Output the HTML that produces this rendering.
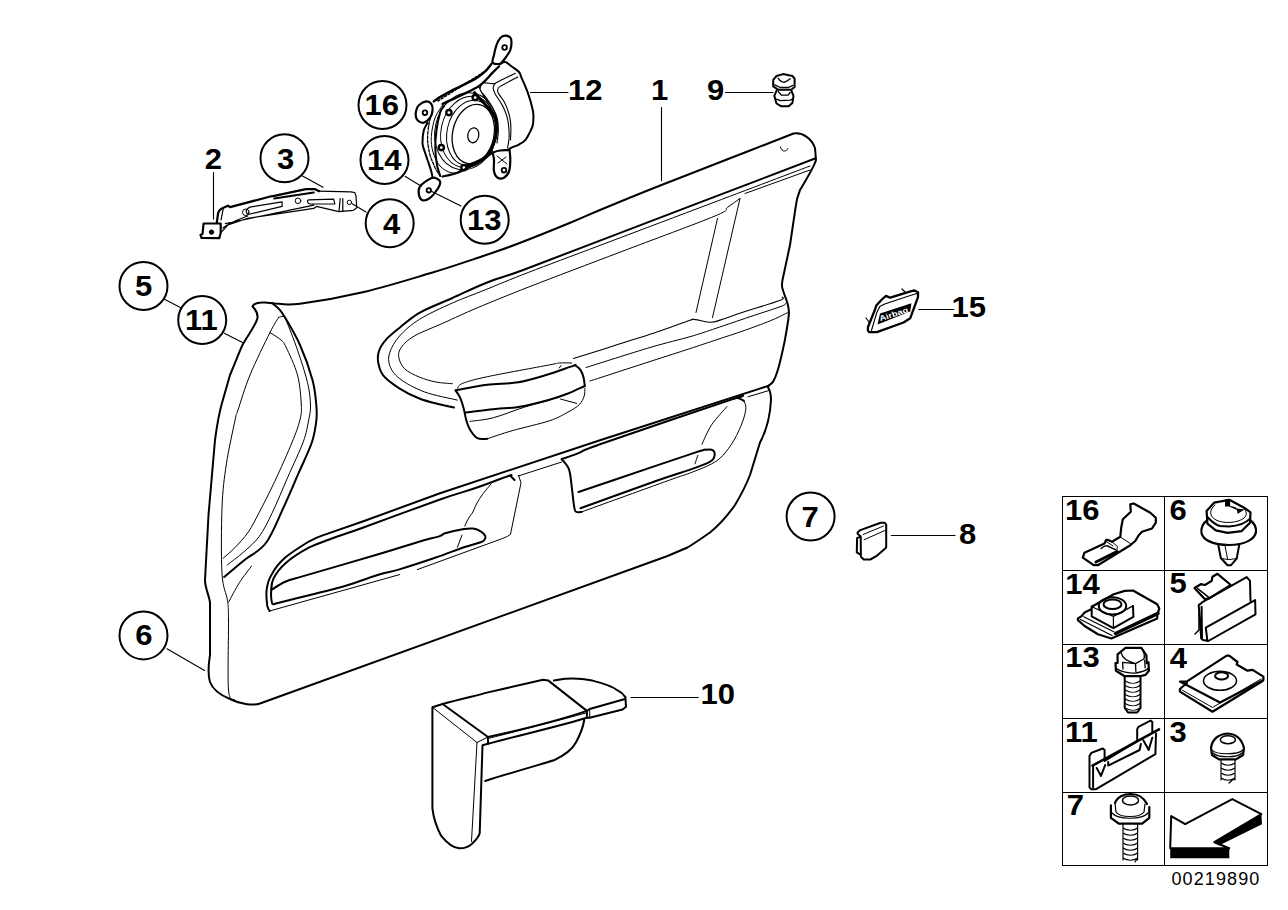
<!DOCTYPE html>
<html><head><meta charset="utf-8"><style>
html,body{margin:0;padding:0;background:#fff;width:1288px;height:910px;overflow:hidden}
svg{display:block}
.t{font-family:"Liberation Sans",sans-serif;font-weight:bold;font-size:29px;fill:#000}
.f{font-family:"Liberation Sans",sans-serif;font-size:18px;letter-spacing:1.1px;fill:#000}
</style></head><body>
<svg width="1288" height="910" viewBox="0 0 1288 910" fill="none" stroke="#000" stroke-linecap="round" stroke-linejoin="round">
<!-- door panel -->
<g id="panel">
<path stroke-width="2" d="M252.5,306.5 C254,303 258,302 265,302.5 L275,303.5  C279.2,303.5 285.0,305.7 300.0,303.7 C315.0,301.7 343.3,296.8 365.0,291.7 C386.7,286.6 411.8,278.7 430.0,273.3 C448.2,267.9 459.5,264.0 474.0,259.1 C488.5,254.2 500.7,250.2 517.0,244.0 C533.3,237.8 558.2,227.7 572.0,222.0 C585.8,216.3 585.1,216.2 600.0,210.0 C614.9,203.8 640.2,193.4 661.5,185.0 C682.8,176.6 705.5,167.9 727.5,159.3 C749.5,150.7 782.5,137.8 793.5,133.5 C803,132 812,139 815,148 L816,160 C814,167 806,180 800,190 C797,197 796,203 795.5,208 L790,245 L782.5,280  C782.5,281.3 781.4,283.9 782.3,287.9 C783.1,291.8 786.5,299.7 787.6,303.7 C788.7,307.7 788.8,309.0 788.9,311.7 C789.0,314.4 788.9,315.0 788.3,319.6 C787.6,324.2 786.2,333.0 785.0,339.4 C783.8,345.8 782.3,352.3 781.0,357.8 C779.7,363.3 778.4,368.3 777.1,372.3 C775.8,376.3 774.7,379.2 773.1,381.6 C771.5,384.0 768.4,385.7 767.5,386.5 C770,390 771,396 771,400 C770,420 764,435 760,442.5 L750,475 C745,488 738,500 735,505 C728,515 718,526 710,532.5 C702,538 695,543 687.5,547.5 L667.5,556 L260,703.5 C252,706 240,704 230,699 C220,695 213,690 210,682 C207,672 209,662 210,655 L210,602.5 C209,595 205,588 205,580 L208.5,515 L215,440 C217,425 220,410 222,403 L230,375 C235,363 240,350 242.5,345 C248,335 256,325 257.5,318 C258,313 255,309 252.5,306.5 Z"/>
<path stroke-width="2" d="M272.0,303.0 C273.2,304.0 276.8,306.6 279.0,309.0 C281.2,311.4 281.5,311.5 285.0,317.5 C288.5,323.5 295.4,334.6 300.0,345.0 C304.6,355.4 309.8,370.0 312.5,380.0 C315.2,390.0 315.7,398.3 316.3,405.0 C316.9,411.7 317.1,413.8 316.4,420.0 C315.7,426.2 314.9,433.2 312.0,442.0 C309.1,450.8 303.6,461.7 298.8,472.7 C294.0,483.7 288.9,496.1 283.4,507.8 C277.9,519.5 272.5,534.2 265.9,543.0 C259.3,551.8 250.8,554.8 243.9,560.5 C237.0,566.2 227.5,574.2 224.2,577.0"/>
<path stroke-width="1" d="M278.5,317.5 C279.2,317.3 281.8,316.1 283.0,316.5 C284.2,316.9 283.6,314.4 286.0,320.0 C288.4,325.6 293.9,339.6 297.5,350.0 C301.1,360.4 305.3,373.3 307.5,382.5 C309.7,391.7 310.3,398.8 310.5,405.0 C310.7,411.2 309.9,413.8 308.7,420.0 C307.5,426.2 306.7,432.5 303.2,442.0 C299.7,451.5 292.9,465.4 287.8,477.1 C282.7,488.8 277.2,502.3 272.5,512.2 C267.8,522.1 264.1,529.8 259.3,536.4 C254.5,543.0 249.2,547.0 243.9,551.8 C238.6,556.5 230.2,562.7 227.4,564.9"/>
<path stroke-width="1" d="M270.0,332.5 C271.8,333.8 278.3,337.6 281.0,340.0 C283.7,342.4 283.2,341.2 286.0,347.0 C288.8,352.8 294.9,365.3 297.5,375.0 C300.1,384.7 300.9,397.5 301.3,405.0 C301.7,412.5 301.4,413.8 299.9,420.0 C298.4,426.2 296.4,431.8 292.2,442.0 C288.0,452.2 280.2,469.8 274.7,481.5 C269.2,493.2 263.7,503.8 259.3,512.2 C254.9,520.6 252.3,526.1 248.3,532.0 C244.3,537.9 239.3,543.0 235.1,547.4 C230.9,551.8 225.1,556.5 223.1,558.3"/>
<path stroke-width="1" d="M278.5,317.5 C277.1,320.0 274.8,322.9 270.0,332.5 C265.2,342.1 255.3,362.1 250.0,375.0 C244.7,387.9 240.5,402.5 238.0,410.0 C235.5,417.5 237.0,411.0 235.1,420.0 C233.2,429.0 228.6,449.3 226.4,463.9 C224.2,478.5 222.7,489.5 222.0,507.8 C221.3,526.1 221.1,558.3 222.0,573.7 C222.9,589.1 226.3,592.4 227.4,600.1 C228.5,607.8 228.3,605.0 228.5,620.0 C228.7,635.0 227.4,676.7 228.5,690.0 C229.6,703.3 233.9,698.3 235.0,700.0"/>
<path stroke-width="1" d="M251.6,566.0 C249.6,568.8 243.3,576.5 239.5,582.5 C235.7,588.5 230.3,599.0 228.5,602.3"/>
<path stroke-width="1" d="M457.4,547.3 L462,535.2"/>
<path stroke-width="1" d="M780.5,147 C781,150 783,151 784.5,151 C786,151 787.5,150 788,148.5"/>
<!-- window loop -->
<path stroke-width="2" d="M815.0,158.5 C795.8,165.8 735.8,188.7 700.0,202.4 C664.2,216.1 629.5,229.3 600.0,240.6 C570.5,251.9 542.3,262.9 523.2,270.0 C504.1,277.1 497.1,278.5 485.3,283.2 C473.5,287.9 463.4,293.1 452.4,298.0 C441.4,302.9 428.2,307.9 419.4,312.8 C410.6,317.8 405.2,323.3 399.7,327.7 C394.2,332.1 389.9,335.4 386.5,339.2 C383.1,343.0 380.5,346.8 379.1,350.7 C377.7,354.6 377.5,358.2 378.2,362.3 C378.9,366.4 379.6,371.0 383.2,375.4 C386.8,379.8 393.7,384.8 399.7,388.6 C405.7,392.5 412.8,395.9 419.4,398.5 C426.0,401.1 433.4,402.8 439.2,404.3 C445.0,405.8 451.5,407.1 454.0,407.6"/>
<path stroke-width="1" d="M810.0,166.0 C791.7,172.9 735.0,194.4 700.0,207.6 C665.0,220.8 628.6,234.6 600.0,245.4 C571.4,256.2 547.3,265.1 528.2,272.5 C509.1,279.9 497.9,284.7 485.3,289.8 C472.7,294.9 463.4,298.1 452.4,303.0 C441.4,307.9 428.2,313.9 419.4,319.4 C410.6,324.9 404.6,330.4 399.7,335.9 C394.8,341.4 391.4,347.4 389.8,352.4 C388.2,357.3 388.2,361.2 389.8,365.6 C391.4,370.0 393.9,374.3 399.7,378.7 C405.5,383.1 414.8,388.3 424.4,391.9 C434.0,395.5 451.8,398.7 457.3,400.1"/>
<path stroke-width="1" d="M740.0,198.5 C737.9,200.0 731.7,204.4 727.5,207.3 C723.3,210.2 732.9,208.5 715.0,216.0 C697.1,223.5 650.8,240.4 620.0,252.2 C589.2,263.9 553.8,277.2 530.0,286.5 C506.2,295.8 491.4,301.9 477.1,307.9 C462.8,313.9 454.5,318.0 444.1,322.7 C433.7,327.4 421.6,331.8 414.5,335.9 C407.4,340.0 403.9,343.8 401.3,347.4 C398.7,351.0 398.2,353.7 398.8,357.3 C399.4,360.9 401.2,365.5 404.6,368.8 C408.0,372.1 414.2,374.9 419.4,377.1 C424.6,379.3 430.4,380.9 435.9,382.0 C441.4,383.1 449.6,383.4 452.4,383.7"/>
<path stroke-width="1" d="M745,193.5 L810,170 M717.5,218.5 L696,312.5 M740,198.5 L712.5,317.5"/>
<!-- lower window sill lines -->
<path stroke-width="1.1" d="M573.5,358.5 C579.6,356.6 595.6,351.6 610.0,347.0 C624.4,342.4 646.7,335.5 660.0,331.0 C673.3,326.5 684.1,322.1 690.0,320.2 C695.9,318.3 691.8,319.3 695.3,319.6 C698.8,319.9 706.7,322.2 711.1,322.2 C715.5,322.2 716.4,321.2 721.7,319.6 C727.0,318.0 733.1,315.5 742.8,312.3 C752.5,309.1 773.1,302.9 779.7,300.4 C786.3,297.9 781.9,297.7 782.3,297.2"/>
<path stroke-width="1" d="M586.0,367.5 C596.7,364.2 632.7,352.6 650.0,347.5 C667.3,342.4 679.6,339.7 690.0,336.7 C700.4,333.7 703.2,332.6 712.4,329.5 C721.6,326.4 734.0,322.2 745.4,318.3 C756.8,314.4 774.3,308.9 781.0,306.4 C787.7,303.9 784.8,303.7 785.6,303.1 M590.0,381.0 C600.0,377.8 633.3,366.9 650.0,361.5 C666.7,356.1 679.4,352.1 690.0,348.6 C700.6,345.1 704.5,343.8 713.7,340.7 C722.9,337.6 735.5,333.6 745.4,330.1 C755.3,326.6 766.0,322.6 773.1,319.6 C780.2,316.6 785.8,313.5 788.3,312.3"/>
<!-- handle -->
<path stroke-width="2" d="M455.6,390.4 C460.9,389.5 476.9,386.1 487.3,384.8 C497.8,383.5 508.4,384.0 518.3,382.3 C528.2,380.6 537.8,377.5 546.9,374.8 C556.0,372.1 568.2,367.4 573.0,365.9 C577.8,364.3 574.3,364.8 575.5,365.5 C576.7,366.2 579.1,367.9 580.4,369.9 C581.7,371.9 582.8,374.6 583.5,377.3 C584.2,380.0 584.6,384.6 584.8,386.0"/>
<path stroke-width="2" d="M464.9,412.7 C470.7,412.0 490.8,409.3 499.7,408.4 C508.6,407.5 510.0,408.6 518.3,407.1 C526.6,405.7 541.1,402.0 549.4,399.7 C557.7,397.4 562.1,395.8 568.0,393.5 C573.9,391.2 582.0,387.2 584.8,386.0"/>
<path stroke-width="2" d="M455.6,390.4 C456.3,391.5 458.5,394.2 459.9,397.2 C461.2,400.2 462.7,404.7 463.7,408.4 C464.7,412.1 465.1,416.1 466.1,419.6 C467.1,423.1 468.0,426.4 469.9,429.5 C471.8,432.6 474.4,436.6 477.3,438.2 C480.2,439.8 485.6,438.7 487.3,438.8"/>
<path stroke-width="1" d="M487.3,438.8 C491.4,437.4 501.8,433.7 512.1,430.7 C522.5,427.7 540.1,423.9 549.4,420.8 C558.7,417.7 563.0,414.8 568.0,412.1 C573.0,409.4 576.5,407.4 579.2,404.7 C581.9,402.0 583.3,398.7 584.2,396.0 C585.1,393.3 584.7,389.8 584.8,388.5"/>
<path stroke-width="1" d="M469.9,421.4 C473.8,420.8 484.4,420.1 493.5,417.7 C502.6,415.3 515.2,410.0 524.5,407.1 C533.8,404.2 545.2,401.4 549.4,400.3"/>
<path stroke-width="1" d="M457.5,388.5 C458.3,387.7 457.4,385.5 462.4,383.5 C467.4,381.5 472.8,379.8 487.3,376.7 C501.8,373.6 537.4,367.2 549.4,364.9 C561.4,362.6 555.6,363.3 559.3,363.0 C563.0,362.7 569.6,363.0 571.7,363.0"/>
<path stroke-width="1" d="M559.3,368 L561,365.5 M560.6,399.1 L576.7,403.4"/>
<!-- armrest lines -->
<path stroke-width="2" d="M769,385.6 L600,440.2 L440,493.3 L362.7,521.5 L322.7,535.4 C315,538 312,540 308.8,541.5 C300,547 292,552 285.8,557 C279,563 275,568 272,574 C268,580 267,586 266.5,591 C266,597 267,603 267.3,606 C268,608 268.5,610 269.6,611"/>
<path stroke-width="1" d="M269.6,611 L399.6,574.6"/>
<path stroke-width="2" d="M514.5,480.0 C513.9,479.4 512.0,477.2 511.0,476.5 C510.0,475.8 514.3,474.0 508.3,476.0 C502.3,478.0 486.2,484.4 474.8,488.3 C463.4,492.2 458.7,492.9 440.0,499.5 C421.3,506.1 380.7,521.2 362.7,527.7 C344.7,534.2 340.9,535.2 331.9,538.5 C322.9,541.8 316.5,543.6 308.8,547.7 C301.1,551.8 291.7,557.9 285.8,563.0 C279.9,568.1 275.9,573.8 273.5,578.5 C271.1,583.2 271.4,586.9 271.2,591.0 C270.9,595.1 271.4,600.9 272.0,603.0 C272.6,605.1 274.5,603.7 275.0,603.8"/>
<path stroke-width="2" d="M275.0,603.8 C280.8,602.3 298.5,597.9 310.0,595.0 C321.5,592.1 332.5,589.7 344.2,586.2 C355.9,582.8 370.9,577.1 380.0,574.3 C389.1,571.5 389.3,572.4 398.6,569.6 C407.9,566.8 425.0,561.2 435.9,557.5 C446.8,553.8 456.4,549.8 463.9,547.3 C471.4,544.8 477.3,543.5 480.7,542.2 C484.1,541.0 483.6,540.8 484.4,539.8 C485.2,538.8 485.9,537.5 485.3,536.1 C484.7,534.7 482.7,532.6 480.7,531.4 C478.7,530.1 476.0,529.0 473.2,528.6 C470.4,528.2 468.6,528.3 463.9,529.1 C459.2,529.9 449.2,532.1 445.2,533.3 C441.1,534.5 444.2,534.6 439.6,536.1 C435.0,537.6 427.2,539.2 417.3,542.2 C407.4,545.2 398.6,548.3 380.0,553.8 C361.4,559.3 321.5,570.8 305.8,575.4 C290.1,580.0 291.6,579.1 285.8,581.5 C280.0,583.9 273.6,588.6 271.2,590.0"/>
<path stroke-width="1" d="M491,484 C486,490 480,497 477,503 C474,508 474,512 470,516 C468,519 466,523 464.8,526 M518.3,476 L561.7,462 M518.5,475.3 L521,482.8 L510.5,534.2 M417.3,569.6 L502.5,538.5 C506,537 509,536 510.5,534.2"/>
<!-- right pocket -->
<path stroke-width="2" d="M561.7,459.1 C564.6,458.1 572.7,455.4 579.1,452.9 C585.5,450.4 574.6,453.1 600.0,444.2 C625.4,435.3 708.2,407.3 731.3,399.6 C754.3,391.9 736.2,398.0 738.3,398.2 C740.4,398.4 743.0,400.5 743.9,401.0"/>
<path stroke-width="2" d="M561.7,459.1 C562.8,460.5 566.5,464.4 568.0,467.2 C569.5,470.0 569.4,469.3 570.4,475.9 C571.4,482.5 573.2,500.9 574.2,506.9 C575.2,512.9 575.4,511.1 576.6,511.9 C577.8,512.7 580.8,511.9 581.6,511.9"/>
<path stroke-width="2" d="M578.5,492.0 C584.4,490.0 594.6,486.6 614.0,480.0 C633.4,473.4 679.6,457.6 695.0,452.6 C710.4,447.6 703.3,450.3 706.1,449.8 C708.9,449.3 710.3,449.3 711.7,449.8 C713.1,450.3 714.1,451.2 714.5,452.6 C714.9,454.0 714.7,456.6 713.8,458.2 C712.9,459.8 712.7,460.5 708.9,462.4 C705.1,464.3 699.6,466.3 690.8,469.4 C682.0,472.5 674.3,474.5 655.9,481.0 C637.5,487.5 593.0,503.7 580.4,508.2"/>
<path stroke-width="1" d="M581.6,511.9 C588.0,509.6 605.3,503.3 620.0,498.0 C634.7,492.7 657.8,484.3 669.8,480.0 C681.8,475.7 685.2,474.9 692.2,472.2 C699.2,469.5 706.6,466.6 711.7,463.8 C716.8,461.0 719.2,459.4 722.9,455.4 C726.6,451.4 730.8,445.6 734.1,440.0 C737.4,434.4 740.5,427.2 742.5,421.9 C744.5,416.5 745.7,411.4 745.9,407.9 C746.1,404.4 744.2,402.1 743.9,401.0"/>
<path stroke-width="1" d="M727.1,406.5 C724.5,409.5 715.9,418.4 711.7,424.7 C707.5,431.0 703.6,440.9 702.0,444.2 M697.8,455.4 C697.3,456.8 695.5,462.4 695.0,463.8"/>
<path stroke-width="1" d="M748,396.8 L769,390.5"/>
</g>
<!-- other parts -->
<g id="parts">
<!-- bracket 2/3/4 -->
<path stroke-width="2.2" d="M216.8,223 L218.1,213 C219,210 221,208.5 223.4,207.7 L228,205.7 L230,207.1 L270.2,196.5 L274.2,195.8 L305.9,189.2 L315.1,189.2 L319.1,191.2"/>
<path stroke-width="2.2" d="M203.6,223.5 L220.7,223.5 L220.7,232.8 M203.6,223.5 L202.5,234 L200.5,235 L201.6,238 L219.4,238.1 L220.7,232.8"/>
<circle cx="211.5" cy="232.1" r="2.2" fill="#000" stroke-width="1"/>
<path stroke-width="2" d="M274.2,198.5 L313.8,192.5"/>
<path stroke-width="1.2" d="M319.1,191.2 L350.8,191.9 L354.7,192.5 L356,195.8 L356.7,207.7 L353.4,210.4 L338.9,211.7 L316.4,206.4 L313.8,208.4 L247.8,218.3 L228,224.9 L220.7,232.8 M342.8,198.5 L342.8,211 M340.2,198.5 L339,211.5 M225.4,223.6 L313.8,205.1 M223,228 C230,222 240,219 247.8,216 M249.8,207.1 L282.1,201.8 L282.1,206.4 L247.8,214.5 C245,212 246,209 249.8,207.1 M308.5,199.8 L333.6,199.1 L334.9,203.8 L310,204 C307,203 307,201 308.5,199.8 M223.5,207.7 L221,220"/>
<circle cx="245.8" cy="212.3" r="3.3" stroke-width="1"/>
<circle cx="298" cy="200.8" r="2.8" stroke-width="1"/>
<circle cx="349.4" cy="202.4" r="2.2" stroke-width="1"/>
<line stroke-width="1.1" x1="302.5" y1="176" x2="323" y2="187.3"/>
<line stroke-width="1.1" x1="352.1" y1="203.8" x2="366" y2="212"/>
<!-- speaker -->
<path stroke-width="2" d="M500.2,63.8 C501.0,63.5 503.3,61.6 505.2,62.0 C507.1,62.4 509.2,64.6 511.5,66.3 C513.8,68.0 517.3,70.1 519.0,72.0 C520.7,73.9 520.0,74.1 521.5,77.6 C523.0,81.0 525.9,87.3 527.8,92.7 C529.7,98.1 531.9,106.0 532.8,110.2 C533.7,114.4 533.4,115.2 533.4,117.7 C533.4,120.2 533.3,122.9 532.8,125.2 C532.3,127.5 531.5,128.9 530.3,131.4 C529.0,133.9 527.4,137.8 525.3,140.1 C523.2,142.4 520.1,143.8 517.8,145.1 C515.5,146.3 513.2,146.8 511.5,147.6 C509.8,148.4 508.4,149.7 507.8,150.1"/>
<path stroke-width="1.1" d="M515.3,73.2 C512.2,74.8 500.1,80.6 496.5,82.6 C492.9,84.6 494.5,84.0 494.0,85.1 C493.5,86.1 493.1,87.4 493.3,88.9 C493.5,90.4 493.8,91.4 495.2,93.9 C496.6,96.4 499.8,101.0 501.5,103.9 C503.2,106.8 504.1,108.8 505.2,111.5 C506.2,114.2 507.2,117.1 507.8,120.2 C508.4,123.3 508.8,127.2 509.0,130.3 C509.2,133.4 509.2,136.1 509.0,139.0 C508.8,141.9 507.8,146.5 507.5,148.0"/>
<path stroke-width="1.1" d="M517.8,77.0 C514.9,78.6 503.5,84.2 500.2,86.4 C496.9,88.6 498.0,89.1 497.7,90.2 C497.4,91.3 497.3,91.4 498.4,93.3 C499.4,95.2 502.4,98.6 504.0,101.4 C505.6,104.2 506.8,107.1 507.8,110.2 C508.9,113.3 509.8,116.8 510.3,120.2 C510.8,123.6 510.9,127.0 510.9,130.3 C510.9,133.6 510.6,138.4 510.5,140.0"/>
<path stroke-width="1.1" d="M482.7,82.6 C484.8,82.8 493.1,83.7 495.2,83.9 M481.4,83.9 C481.2,85.0 479.6,88.1 480.2,90.2 C480.8,92.3 483.1,93.5 485.2,96.4 C487.3,99.3 490.7,104.2 492.7,107.7 C494.7,111.2 496.2,113.9 497.1,117.7 C498.1,121.5 498.4,126.1 498.4,130.3 C498.4,134.5 497.2,140.9 497.0,143.0 M479.0,87.0 C479.7,88.3 481.3,92.0 483.0,95.0 C484.7,98.0 487.0,101.3 489.0,105.0 C491.0,108.7 493.8,112.8 495.0,117.0 C496.2,121.2 496.2,125.5 496.0,130.0 C495.8,134.5 494.3,141.7 494.0,144.0"/>
<path stroke-width="2.4" d="M433.8,101.4 C435.1,100.6 437.8,98.5 441.3,96.4 C444.9,94.3 449.5,91.8 455.1,88.9 C460.8,86.0 470.2,81.8 475.2,78.9 C480.2,76.0 482.5,73.9 485.2,71.4 C487.9,68.9 490.4,65.1 491.5,63.8"/>
<path stroke-width="2.4" d="M442.6,103.9 C445.7,102.5 455.1,98.3 461.4,95.2 C467.7,92.1 475.0,88.9 480.2,85.1 C485.4,81.3 489.6,75.7 492.7,72.6 C495.8,69.5 497.9,67.3 499.0,66.3"/>
<path stroke-width="1.5" stroke-dasharray="2 2" d="M438,101 L487,70"/>
<path stroke-width="2.2" d="M492.7,62.6 C491.7,61.1 493.4,57.9 494.0,55.0 C494.6,52.1 495.5,47.8 496.5,45.0 C497.5,42.2 498.8,39.7 500.2,38.1 C501.6,36.5 503.5,35.7 505.2,35.6 C506.9,35.5 509.2,36.4 510.3,37.5 C511.4,38.6 511.5,40.4 511.5,42.5 C511.5,44.6 511.1,47.7 510.3,50.0 C509.5,52.3 507.8,54.4 506.5,56.3 C505.2,58.2 503.8,60.0 502.7,61.3 C501.6,62.5 501.9,63.6 500.2,63.8 C498.5,64.0 493.7,64.1 492.7,62.6 Z"/>
<circle cx="504.6" cy="47.5" r="2.3" stroke-width="1.8"/>
<path stroke-width="2.2" d="M416.3,110.2 C416.8,108.5 417.1,106.7 418.8,105.2 C420.5,103.7 424.2,101.6 426.3,101.4 C428.4,101.2 430.2,102.4 431.3,103.9 C432.4,105.4 432.8,107.9 432.6,110.2 C432.4,112.5 431.6,115.6 430.1,117.7 C428.6,119.8 425.9,122.3 423.8,122.7 C421.7,123.1 418.9,121.5 417.5,120.2 C416.1,119.0 415.9,116.9 415.7,115.2 C415.5,113.5 415.8,111.9 416.3,110.2 Z"/>
<circle cx="425" cy="112.7" r="2.3" stroke-width="1.8"/>
<path stroke-width="2" d="M427.6,122.7 C427.0,124.0 424.7,127.0 423.8,130.3 C422.9,133.7 422.5,139.7 422.5,142.8 C422.5,145.9 422.9,146.0 423.8,148.9 C424.7,151.8 426.4,156.4 427.6,160.2 C428.9,164.0 430.5,168.6 431.3,171.5 C432.1,174.4 432.4,176.7 432.6,177.7"/>
<path stroke-width="1.3" stroke-dasharray="3 1.5" d="M430.5,118.0 C430.2,119.2 429.3,121.4 428.8,125.1 C428.3,128.8 427.4,135.1 427.6,140.1 C427.8,145.1 428.9,150.6 430.1,155.2 C431.4,159.8 433.5,164.2 435.1,167.7 C436.8,171.2 439.2,174.6 440.0,176.0"/>
<path stroke-width="1" d="M442.6,105.2 C441.4,107.3 437.0,112.5 435.1,117.7 C433.2,122.9 431.7,130.8 431.3,136.5 C430.9,142.2 431.6,147.1 433.0,152.0 C434.4,156.9 436.8,162.5 440.0,166.0 C443.2,169.5 448.4,172.3 452.0,173.0 C455.6,173.7 459.8,170.7 461.4,170.2"/>
<ellipse stroke-width="1" cx="466" cy="131.3" rx="31" ry="38.8" transform="rotate(12 466 131.3)"/>
<ellipse stroke-width="1" cx="468.5" cy="132" rx="27.5" ry="36" transform="rotate(12 468.5 132)"/>
<ellipse stroke-width="1" cx="471" cy="133" rx="24" ry="33" transform="rotate(12 471 133)"/>
<ellipse stroke-width="1.3" cx="473.3" cy="134" rx="20.7" ry="30" transform="rotate(12 473.3 134)"/>
<ellipse stroke-width="1.3" cx="473.3" cy="135.3" rx="5.5" ry="7.5" transform="rotate(10 473.3 135.3)"/>
<path stroke-width="3" d="M474.6,92.7 C475.5,93.7 477.6,96.0 480.2,98.9 C482.8,101.8 487.7,107.1 490.2,110.2 C492.7,113.3 494.1,115.6 495.2,117.7 C496.2,119.8 496.3,121.9 496.5,122.7"/>
<path stroke-width="3" d="M463.9,166.4 C465.8,165.8 471.4,164.4 475.2,162.7 C479.0,161.0 483.8,158.5 486.5,156.4 C489.2,154.3 490.7,151.2 491.5,150.1"/>
<path stroke-width="2.2" d="M496.5,122.7 C496.5,124.8 496.9,131.1 496.3,135.0 C495.7,138.9 493.8,143.5 493.0,146.0 C492.2,148.5 491.8,149.4 491.5,150.1"/>
<path stroke-width="2" d="M444.0,106.0 C443.4,107.0 441.6,108.0 440.3,112.0 C439.1,116.0 437.3,124.0 436.5,130.0 C435.7,136.0 435.2,142.4 435.3,148.2 C435.4,154.0 436.2,160.4 437.0,165.0 C437.8,169.6 439.8,174.2 440.3,176.0"/>
<circle cx="475.2" cy="97.6" r="2.6" fill="#fff" stroke-width="2.4"/>
<circle cx="448.9" cy="112.6" r="2.6" fill="#fff" stroke-width="2.4"/>
<circle cx="441.3" cy="147.6" r="2.6" fill="#fff" stroke-width="2.4"/>
<circle cx="463.9" cy="167.7" r="2.6" fill="#fff" stroke-width="2.4"/>
<path stroke-width="2.2" d="M442.6,176.5 C445.1,175.9 452.6,174.6 457.6,172.7 C462.6,170.8 468.1,167.7 472.7,165.2 C477.3,162.7 481.9,159.8 485.2,157.7 C488.5,155.6 490.2,153.9 492.7,152.7 C495.2,151.5 497.5,150.9 500.0,150.5 C502.5,150.1 506.5,150.2 507.8,150.1"/>
<path stroke-width="2.2" d="M492.7,152.7 C492.9,153.9 493.8,157.1 494.0,160.2 C494.2,163.3 493.4,168.6 494.0,171.5 C494.6,174.4 496.0,176.7 497.7,177.7 C499.4,178.7 502.1,178.7 504.0,177.7 C505.9,176.7 507.9,174.4 509.0,171.5 C510.1,168.6 510.2,163.8 510.3,160.2 C510.4,156.6 509.7,151.8 509.6,150.1"/>
<circle cx="504" cy="170.2" r="2.3" stroke-width="1.8"/>
<path stroke-width="1" d="M497,156 L507,164 M498,163 L506,157"/>
<path stroke-width="2.2" d="M420.0,186.5 C418.5,188.8 418.4,191.7 418.8,194.0 C419.2,196.3 420.6,199.7 422.5,200.3 C424.4,200.9 427.6,199.7 430.1,197.8 C432.6,195.9 435.9,191.7 437.6,189.0 C439.3,186.3 440.7,183.4 440.1,181.5 C439.5,179.6 435.9,177.9 433.8,177.7 C431.7,177.5 429.9,178.7 427.6,180.2 C425.3,181.7 421.5,184.2 420.0,186.5 Z"/>
<circle cx="428.8" cy="190.3" r="2.2" stroke-width="1.8"/>
<!-- clip 9 -->
<path stroke-width="2" d="M773.2,79.8 L776.5,76 L783.1,74.1 L792.4,76 L794.6,78.7 L794.6,87 L791.3,89.7 L778.1,89.7 L773.2,86.4 Z M776.5,90.8 L774.3,95.8 L776.5,103.5 L780.9,106.2 L788.6,106.2 L792.4,102.9 L793.5,95.8 L791.3,90.3"/>
<path stroke-width="1.3" d="M778.1,78.2 C780,81 782,82.3 783.6,82.3 C786,82.3 788,80.5 790.2,78.7 M774.8,84.8 L780.3,87.5 L788.6,87.5 L793,85.3 M778.1,91.4 L781.4,95.2 L788,95.2 L790.2,92.5 M776.5,99.1 L780.3,100.7 L790.2,100.2 L792.5,99"/>
<!-- badge 15 -->
<path stroke-width="2.3" d="M867.9,330.4 L869.1,332.2 L876.9,332.2 L903.5,322.5 L910.2,318.3 L918,297.1 L918,292.3 L914.4,290.5 L911.4,291.1 L890.2,297.7 L886,295.9 L881.8,299.5 L876.3,305.6 L875.1,309.2 L867.9,327.3 Z"/>
<path stroke-width="1.2" d="M871.5,330.4 L876.9,312.2 L880,306.2 L885.4,303.8 L907.2,296.5 L916.8,293.5 M866,318 L869,322 M902,289 L905,292"/>
<path stroke="none" fill="#000" d="M877.5,324.5 L880,313.4 L911.4,303.3 L910.2,311.5 Z"/>
<text x="0" y="0" transform="translate(880.2 321.3) rotate(-18)" font-family="Liberation Sans" font-weight="bold" font-size="7.5" textLength="30" lengthAdjust="spacingAndGlyphs" fill="#fff" stroke="none">Airbag</text>
<!-- clip 8 -->
<path stroke-width="2" d="M857.6,532.6 L860.4,530.1 L880.7,522.7 L884.6,522.7 L886.2,524.6 L886.2,547.4 L884.6,549.1 L876.3,556.2 L870.3,559.5 L863.7,559.5 L860.9,556.8 L860.7,536.4 L857.6,533.7 Z M860.7,536.4 L857.1,538.1 L856.8,552.4 L860.4,554.6"/>
<path stroke-width="1" d="M863.1,534.5 L883.5,526 M864.2,539.7 L885.1,530.4"/>
<!-- part 10 -->
<path stroke-width="2" d="M432.4,707.3 L432.4,808.4 C434,822 438,830 441.2,835.9 C447,843 453,848 459.1,848.3 C464,848.5 468,847 471.5,844.2 C476,840 479,836 479.7,833.2 L482.5,745.2 L488,743.8 M432.4,707.3 L442.6,704 C460,699 475,696 488,692.4 L543,679.8 L548.4,680.6 L586.9,710.9 L586.9,717.7 C560,726 520,735 488,743.8"/>
<path stroke-width="2" d="M442.6,704 L488,737 L488,743.8 M488,737 C520,730 560,720 586.9,710.9"/>
<path stroke-width="1" d="M432.4,707.3 L477,742.5 L488,737 M477,742.5 L471.5,841.4 M488,738.5 C530,728 560,720 586,713"/>
<path stroke-width="2" d="M485.2,781 C510,773 535,766 553.9,760.3 C565,755 572,750 575.9,742.5 C580,735 583,728 584.2,720"/>
<path stroke-width="2" d="M553.9,680.6 L564.9,678.7 C575,678 585,679 592.4,680.6 C602,683 612,686 617.2,690.2 C621,692 624,695 625.4,697.1 L626,706.7 L622.6,709.5 L589.7,717.7 L586.9,717.7 M586.9,710.9 L589.7,709 L625,699"/>
<path stroke-width="1" d="M589.7,709 L589.7,717.7"/>
</g>
<!-- circles -->
<g stroke-width="2">
<circle cx="382.5" cy="105" r="24"/>
<circle cx="284.5" cy="158.3" r="24"/>
<circle cx="384.5" cy="160" r="24"/>
<circle cx="389.7" cy="223.3" r="24"/>
<circle cx="484.7" cy="219.8" r="24"/>
<circle cx="143.5" cy="286" r="24"/>
<circle cx="202.2" cy="320" r="24"/>
<circle cx="810.6" cy="516.5" r="24"/>
<circle cx="143.5" cy="635.4" r="24"/>
</g>
<!-- leaders -->
<g stroke-width="1.1">
<line x1="530.5" y1="92.5" x2="568" y2="92.5"/>
<line x1="661.5" y1="107.5" x2="661.5" y2="180.5"/>
<line x1="725.5" y1="92.5" x2="773" y2="92.5"/>
<line x1="213.5" y1="172.5" x2="213.5" y2="219"/>
<line x1="164.5" y1="299.3" x2="181.3" y2="308"/>
<line x1="224.3" y1="333.3" x2="242.5" y2="342.5"/>
<line x1="167" y1="648.8" x2="204.5" y2="670.5"/>
<line x1="918.8" y1="309.5" x2="953.8" y2="309.5"/>
<line x1="891.3" y1="535.5" x2="955" y2="535.5"/>
<line x1="630.9" y1="697.5" x2="698.2" y2="697.5"/>
<line x1="405" y1="176.3" x2="421.3" y2="186.3"/>
<line x1="431.3" y1="191.3" x2="461" y2="206"/>
</g>
<!-- labels -->
<g class="t" stroke="none">
<text transform="translate(364.4,115.0) scale(1.07,1)">16</text>
<text transform="translate(277.0,169.3) scale(1.07,1)">3</text>
<text transform="translate(367.0,170.0) scale(1.07,1)">14</text>
<text transform="translate(383.0,234.2) scale(1.07,1)">4</text>
<text transform="translate(467.0,230.0) scale(1.07,1)">13</text>
<text transform="translate(134.9,296.0) scale(1.07,1)">5</text>
<text transform="translate(185.0,330.2) scale(1.07,1)">11</text>
<text transform="translate(801.5,526.5) scale(1.07,1)">7</text>
<text transform="translate(135.2,645.4) scale(1.07,1)">6</text>
<text transform="translate(567.9,100.0) scale(1.07,1)">12</text>
<text transform="translate(651.0,100.0) scale(1.07,1)">1</text>
<text transform="translate(707.0,100.0) scale(1.07,1)">9</text>
<text transform="translate(204.8,169.3) scale(1.07,1)">2</text>
<text transform="translate(951.5,317.0) scale(1.07,1)">15</text>
<text transform="translate(959.0,544.2) scale(1.07,1)">8</text>
<text transform="translate(700.4,704.0) scale(1.07,1)">10</text>
</g>
<!-- table -->
<g stroke-width="1" stroke-linecap="square">
<line x1="1062.5" y1="496.5" x2="1267.5" y2="496.5"/>
<line x1="1062.5" y1="865.5" x2="1267.5" y2="865.5"/>
<line x1="1062.5" y1="496.5" x2="1062.5" y2="865.5"/>
<line x1="1267.5" y1="496.5" x2="1267.5" y2="865.5"/>
<line x1="1164.5" y1="496.5" x2="1164.5" y2="865.5"/>
<line x1="1062.5" y1="570.5" x2="1267.5" y2="570.5"/>
<line x1="1062.5" y1="644.5" x2="1267.5" y2="644.5"/>
<line x1="1062.5" y1="718.5" x2="1267.5" y2="718.5"/>
<line x1="1062.5" y1="792.5" x2="1267.5" y2="792.5"/>
</g>
<g class="t" stroke="none">
<text transform="translate(1065.0,519.8) scale(1.07,1)">16</text>
<text transform="translate(1169.6,519.8) scale(1.07,1)">6</text>
<text transform="translate(1065.3,593.8) scale(1.07,1)">14</text>
<text transform="translate(1169.6,593.0) scale(1.07,1)">5</text>
<text transform="translate(1065.3,667.0) scale(1.07,1)">13</text>
<text transform="translate(1169.8,667.6) scale(1.07,1)">4</text>
<text transform="translate(1065.0,742.0) scale(1.07,1)">11</text>
<text transform="translate(1169.6,741.8) scale(1.07,1)">3</text>
<text transform="translate(1066.8,815.0) scale(1.07,1)">7</text>
</g>
<!-- table icons -->
<g id="icons">
<!-- 16 -->
<path stroke-width="2.2" d="M1130.3,504.3 L1133.7,503.5 L1150.3,512.7 L1155.8,517.7 L1155.8,522.7 L1152,528.5 L1142,531.8 L1138.7,535.2 L1135.3,541 L1130.3,545.2 L1097.8,565.2 L1093.7,565.2 L1082.8,557.7 L1084.5,552.7 L1104.5,543.5 L1106.2,539.8 L1108.7,540.2 L1112,541.8 L1120.3,536.8 L1121.2,527.7 L1122.8,519.3 L1130.8,511.8 Z"/>
<path stroke-width="1" d="M1112,541.8 L1117.5,546.5 L1116.5,551 M1120.3,537 L1130.3,543.5 M1105.5,541 L1113,546"/>
<path stroke-width="3" d="M1096,562 L1117,551.5"/>
<path stroke-width="1.5" d="M1101.2,548.5 C1104,546 1106,545.5 1107.5,546 C1110,547 1112,548.5 1115.3,549.5"/>
<!-- 6 -->
<path stroke-width="2.2" d="M1206.6,511 L1214.1,502.7 L1229.2,499.8 L1244.2,507.7 L1250.5,512.3 L1250,522.7 L1241.7,531.1 L1227.5,532.8 L1215.8,530.3 L1207.4,523.6 Z"/>
<path stroke-width="1" d="M1215,505 C1209,510 1209,516 1216,520 C1224,524 1238,523 1244,518 C1249,514 1245,508 1240,506"/>
<path stroke-width="2" d="M1207.4,517 C1212,522 1216,525 1220,526 L1229,526.5 C1236,526 1245,524 1250,518.6"/>
<path stroke="none" fill="#000" d="M1225,499.5 L1230,499 L1230.2,506 L1235,507 L1237,508.5 L1244.5,509.5 L1237.5,514 L1237,510 L1229,506.5 L1225,506.5 Z"/>
<path stroke-width="2.2" d="M1207,520.5 C1202,524 1201,529 1201.5,533 C1203,540 1213,545 1229,545 C1245,545 1255,539 1256,532 C1256.5,527 1254,523 1250,520"/>
<path stroke-width="2" d="M1218.3,545 L1220.8,558 L1227.5,565.3 L1230.8,565.3 L1236.7,558.6 L1239.2,545"/>
<path stroke-width="1" d="M1225,546 L1227.5,558.6 M1221,558 C1226,560 1232,560 1237,558"/>
<!-- 14 -->
<path stroke-width="2.2" d="M1084.6,612.6 L1091.2,609.3 M1091.7,606.8 L1113.8,594.2 L1124.7,590.9 L1133,590.5 L1157.2,604.3 L1159.3,608.4 L1157.2,615.1 L1157.2,618.5 L1111.3,638.5 L1097.9,634.3 L1084.6,626 L1077.9,620.1 L1077.9,618.5 L1081.2,616.4 L1084.6,612.6"/>
<path stroke-width="2" d="M1091.7,606.8 L1091.7,616.4 M1133,605.9 L1133.4,616.8 L1113.4,628.1 L1091.7,616.4"/>
<path stroke-width="1.2" d="M1091.7,606.8 L1113.4,616.4 L1133,605.9 M1113.4,616.4 L1113.4,628.1 M1083.7,616.8 L1113.8,631.8 M1080.5,619.5 L1112,635.5"/>
<ellipse stroke-width="2" cx="1112.5" cy="605.9" rx="13.7" ry="8.7"/>
<ellipse stroke-width="2" cx="1112.5" cy="604.3" rx="9" ry="4.8"/>
<path stroke-width="3.5" d="M1115.5,633.5 L1158,613.4"/>
<!-- 5 -->
<path stroke-width="2" d="M1198.7,605.1 L1202.4,602.2 L1246.7,577.1 L1250,580.9 L1250.5,600.9 M1198.7,605.1 L1201.2,638.5 L1203,640 L1208.3,641 L1255.5,614.3 L1255.1,600.1 L1205.8,627.6 L1207.4,641 M1201.6,606.8 L1202,639"/>
<path stroke-width="2.2" d="M1194.5,588 L1200.8,584.2 L1205,585 L1211.6,580.9 L1212.5,576.7 L1217.5,573.8 L1230.8,585 L1209.1,598.4 L1204.9,599.2 Z"/>
<path stroke-width="1.5" d="M1197.4,588.4 L1209.1,597.6 M1199,613 L1199,630 L1195,634"/>
<!-- 13 -->
<path stroke-width="2.2" d="M1117.6,654.4 L1125.5,647.8 L1141.4,647.8 L1146.4,655.3 L1146.8,663.2 M1117.6,654.4 L1117.6,663 M1115.5,663.2 L1115.9,670.7 L1124.7,676.2 L1140,676.2 L1145.5,674.9 L1148.9,670.7 L1148.5,662.4 M1115.5,663.2 L1117.6,663 M1146.8,663.2 L1148.5,662.4"/>
<path stroke-width="1.3" d="M1121.3,653.2 C1122,657 1126,661 1135.5,663.6 L1143.9,659 C1145,656 1144,652 1141.4,648 M1122.6,662.4 L1123,669.1 M1135.5,663.6 L1135.9,671.6 M1144.7,660.3 L1145.1,667.8 M1122.6,662.4 L1135.5,663.6 M1116,668 C1120,672 1130,673.5 1136,673 C1142,672 1147,670 1148.5,668"/>
<path stroke-width="2" d="M1124.7,676.2 L1124.7,708 L1128,712.5 L1137.2,712.5 L1140.5,708 L1140.5,676.2"/>
<path stroke-width="1.2" d="M1125,681 C1130,684 1136,684 1140,681 M1125,685.5 C1130,688.5 1136,688.5 1140,685.5 M1125,690 C1130,693 1136,693 1140,690 M1125,694.5 C1130,697.5 1136,697.5 1140,694.5 M1125,699 C1130,702 1136,702 1140,699 M1125,703.5 C1130,706.5 1136,706.5 1140,703.5 M1125,708 C1130,711 1136,711 1140,708"/>
<!-- 4 -->
<path stroke-width="2.2" d="M1179.9,681.6 L1186.6,681.6 L1226.7,655.7 L1229.2,655.7 L1237.5,662 L1236.7,664.5 L1247.5,670.7 L1252.6,669.9 L1263.4,676.6 L1263.4,679.9 L1220,702.5 Z"/>
<path stroke-width="2.2" d="M1187,683 L1179.9,689 L1179.9,691.6 L1212.5,711.7 L1262.6,681"/>
<path stroke-width="1" d="M1182,690 L1212.5,707.5 L1261,679"/>
<ellipse stroke-width="1.5" cx="1220" cy="680.8" rx="16.5" ry="9.5"/>
<ellipse stroke-width="2" cx="1221.6" cy="675.9" rx="6.5" ry="3.6"/>
<!-- 11 -->
<path stroke-width="2" d="M1089.5,756 L1091.3,752.9 L1102.8,748.5 L1104.6,750 L1104.6,760.8 M1089.5,756 L1089.5,787.4 L1091.3,789.2 L1096.1,789.2 L1155.4,754.1 L1156,733.6 M1137.2,729.3 L1138.4,726.9 L1150.5,720.6 L1152.3,722.1 L1152.3,732.4 M1137.2,729.3 L1137.2,741"/>
<path stroke-width="2.5" d="M1092.5,765.6 L1159,729.3"/>
<path stroke-width="2.2" d="M1104.6,760.8 L1137.2,741"/>
<path stroke-width="2" d="M1108.2,762 L1108.2,765.6 L1139.6,750 L1140.9,743.9 M1093.1,766.2 L1093.1,787.4"/>
<path stroke-width="2" d="M1096.7,768 L1101,775.9 L1105.2,765 M1143.3,740.2 L1148.7,749.9 L1152.3,737.8"/>
<!-- 3 -->
<path stroke-width="2.2" d="M1211,748 C1212,740 1218,734 1227.5,733.5 C1237,734 1242,740 1244,748 L1243,755 L1236,759.4 L1219,759.4 L1212,755 Z"/>
<path stroke-width="1.2" d="M1212,750 C1216,755 1238,755 1243,750 M1213,753 C1218,758 1237,758 1242,753"/>
<ellipse stroke-width="1.5" cx="1227.9" cy="739.7" rx="7.5" ry="4"/>
<path stroke-width="1.2" d="M1221,760 L1221,780 M1235,760 L1235,780 M1221,763 C1225,766 1231,766 1235,763 M1221,768 C1225,771 1231,771 1235,768 M1221,773 C1225,776 1231,776 1235,773 M1221,778 C1225,781 1231,781 1235,778 L1229,783"/>
<!-- 7 -->
<path stroke-width="2.2" d="M1110.9,805.4 L1110.9,817.9 L1118.8,823.7 L1142.2,823.7 L1149.3,817.9 L1149.3,807 M1115,803 C1117,797 1124,794 1130.5,794 C1138,794 1144,798 1147,804"/>
<path stroke-width="1.2" d="M1115,803 L1116,812 C1120,818 1140,818 1144,812 L1145,804 M1112,813 C1118,820 1142,820 1148,813"/>
<ellipse stroke-width="1.5" cx="1130.5" cy="800.4" rx="8" ry="4.5"/>
<path stroke-width="1.2" d="M1123,824 L1123,860 M1137.6,824 L1137.6,860 M1123,828 C1127,831 1134,831 1137.6,828 M1123,833 C1127,836 1134,836 1137.6,833 M1123,838 C1127,841 1134,841 1137.6,838 M1123,843 C1127,846 1134,846 1137.6,843 M1123,848 C1127,851 1134,851 1137.6,848 M1123,853 C1127,856 1134,856 1137.6,853 M1123,858 C1127,861 1134,861 1137.6,858 L1135,862"/>
<!-- arrow -->
<path stroke-width="2" d="M1171.2,816.1 L1185.2,824.2 L1232.3,799.1 L1261.4,814.1 L1214.3,842.2 L1229.3,848.2 L1170.2,848.2 Z"/>
<path stroke="none" fill="#000" d="M1261.4,814.1 L1262,824.2 L1219,845.5 L1214.3,842.2 Z M1170.2,848 L1229.3,848 L1229.3,858.2 L1170.2,858.2 Z"/>
</g>
<text class="f" x="1171.5" y="884.6" stroke="none">00219890</text>
</svg>
</body></html>
